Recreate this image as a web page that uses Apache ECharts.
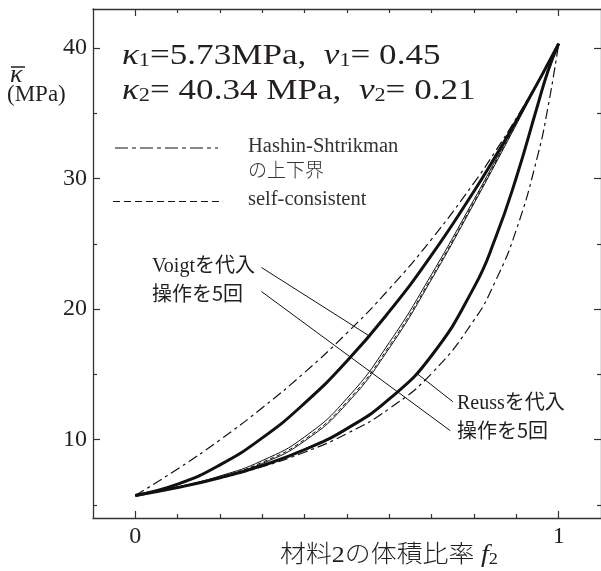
<!DOCTYPE html>
<html><head><meta charset="utf-8">
<script src="https://cdn.jsdelivr.net/npm/echarts@6/dist/echarts.min.js"></script>
<style>html,body{margin:0;padding:0;background:#fff}#c{width:601px;height:571px}</style>
</head><body><div id="c"></div>
<script>
// ---- data ----
const f2 = [0, 0.1, 0.2, 0.3, 0.4, 0.5, 0.6, 0.7, 0.8, 0.85, 0.9, 0.95, 0.975, 1];
const hsUpper        = [5.73, 7.76, 9.99, 12.45, 15.16, 18.18, 21.56, 25.37, 29.68, 32.07, 34.63, 37.38, 38.83, 40.34];
const voigtSubst     = [5.73, 6.59, 8.07, 10.14, 12.80, 16.03, 19.83, 24.16, 29.04, 31.67, 34.44, 37.32, 38.82, 40.34];
const voigt5         = [5.73, 6.39, 7.22, 8.40, 10.22, 13.17, 17.45, 22.68, 28.40, 31.35, 34.33, 37.32, 38.82, 40.34];
const selfConsistent = [5.73, 6.35, 7.15, 8.27, 10.02, 12.92, 17.19, 22.45, 28.22, 31.20, 34.22, 37.27, 38.81, 40.34];
const reuss5         = [5.73, 6.33, 7.10, 8.18, 9.90, 12.78, 17.02, 22.30, 28.10, 31.10, 34.15, 37.23, 38.78, 40.34];
const reussSubst     = [5.73, 6.33, 7.08, 8.02, 9.23, 10.85, 13.12, 16.45, 21.67, 25.39, 30.09, 35.59, 38.27, 40.34];
const hsLower        = [5.73, 6.32, 7.05, 7.93, 9.04, 10.47, 12.38, 15.08, 19.16, 22.11, 26.08, 31.71, 35.52, 40.34];

const xMajorTicks = [0, 1];
const xMinorTicks = [0.1, 0.2, 0.3, 0.4, 0.5, 0.6, 0.7, 0.8, 0.9];
const yMajorTicks = [10, 20, 30, 40];
const yMinorTicks = [5, 15, 25, 35];

const leaderVoigt1 = [[0.298, 23.19], [0.555, 17.9]];
const leaderVoigt5 = [[0.298, 21.35], [0.744, 10.69]];
const leaderReuss1 = [[0.750, 12.91], [0.664, 15.1]];

// ---- chart ----
const INK = '#231f20';
const SERIF = "Liberation Serif";
const SERIF_JP = "Liberation Serif, Noto Sans CJK JP";
const GOTHIC = "Noto Sans CJK JP";
const X_MIN = -0.1, X_MAX = 1.1, Y_MIN = 4, Y_MAX = 43;

function pairs(ys) { return f2.map((x, i) => [x, ys[i]]); }

function xAx(pos, ticks, len, labels, showLine) {
  return {
    type: 'value', position: pos, min: X_MIN, max: X_MAX,
    axisLine: { show: showLine, onZero: false, lineStyle: { color: '#333', width: 1.3 } },
    axisTick: { show: true, inside: true, length: len, customValues: ticks, lineStyle: { color: '#333', width: 1.2 } },
    axisLabel: labels ? { show: true, customValues: ticks, margin: 7, fontFamily: SERIF, fontSize: 24, color: INK } : { show: false },
    splitLine: { show: false }
  };
}
function yAx(pos, ticks, len, labels, showLine) {
  return {
    type: 'value', position: pos, min: Y_MIN, max: Y_MAX,
    axisLine: { show: showLine, onZero: false, lineStyle: { color: '#333', width: 1.3 } },
    axisTick: { show: true, inside: true, length: len, customValues: ticks, lineStyle: { color: '#333', width: 1.2 } },
    axisLabel: labels ? { show: true, customValues: ticks, margin: 6, fontFamily: SERIF, fontSize: 24, color: INK } : { show: false },
    splitLine: { show: false }
  };
}

function curve(name, ys, width, type, z) {
  return {
    name, type: 'line', data: pairs(ys), xAxisIndex: 0, yAxisIndex: 0,
    showSymbol: false, symbol: 'none', smooth: 0.5, silent: true, z: z,
    lineStyle: { color: '#111', width: width, type: type, cap: 'butt' }
  };
}
function leader(pts) {
  return {
    type: 'line', data: pts, xAxisIndex: 0, yAxisIndex: 0, showSymbol: false, symbol: 'none', silent: true, z: 1,
    lineStyle: { color: '#111', width: 1 }
  };
}

function txt(x, y, text, font, size, extra) {
  return Object.assign({
    type: 'text', x: x, y: y, silent: true,
    style: Object.assign({
      text: text, fontFamily: font, fontSize: size, fill: INK,
      align: 'left', verticalAlign: 'middle', textAlign: 'left', textVerticalAlign: 'middle'
    }, (extra && extra.style) || {})
  }, (extra && extra.el) || {});
}

const mainRich = {
  k: { fontFamily: SERIF, fontStyle: 'italic', fontSize: 30, verticalAlign: 'bottom', lineHeight: 30 },
  s: { fontFamily: SERIF, fontSize: 19, verticalAlign: 'bottom', lineHeight: 30 },
  n: { fontFamily: SERIF, fontSize: 30, verticalAlign: 'bottom', lineHeight: 30 }
};

const chart = echarts.init(document.getElementById('c'), null, { renderer: 'canvas' });
chart.setOption({
  animation: false,
  backgroundColor: '#fff',
  grid: { left: 93, top: 9, width: 510, height: 509, containLabel: false },
  xAxis: [
    xAx('bottom', xMajorTicks, 7, true, true),
    xAx('bottom', xMinorTicks, 4, false, false),
    xAx('top', xMajorTicks, 7, false, true),
    xAx('top', xMinorTicks, 4, false, false)
  ],
  yAxis: [
    yAx('left', yMajorTicks, 7, true, true),
    yAx('left', yMinorTicks, 4, false, false),
    yAx('right', yMajorTicks, 7, false, true),
    yAx('right', yMinorTicks, 4, false, false)
  ],
  series: [
    curve('HS upper', hsUpper, 1.2, [10, 4, 3, 4], 2),
    curve('HS lower', hsLower, 1.2, [10, 4, 3, 4], 2),
    curve('self-consistent', selfConsistent, 1, [4, 3], 2),
    curve('Voigt x5', voigt5, 1, 'solid', 3),
    curve('Reuss x5', reuss5, 1, 'solid', 3),
    curve('Voigt', voigtSubst, 3, 'solid', 4),
    curve('Reuss', reussSubst, 3, 'solid', 4),
    leader(leaderVoigt1),
    leader(leaderVoigt5),
    leader(leaderReuss1)
  ],
  graphic: [
    // y-axis name
    txt(10, 75, 'κ', SERIF, 26, { style: { fontStyle: 'italic' } }),
    { type: 'line', silent: true, shape: { x1: 11, y1: 67, x2: 25, y2: 67 }, style: { stroke: INK, lineWidth: 1.5 } },
    txt(7, 95, '(MPa)', SERIF, 23),
    // parameters
    txt(122, 56, '{k|κ}{s|1}{n|=5.73MPa,  }{k|ν}{s|1}{n|= 0.45}', SERIF, 30, { style: { rich: mainRich }, el: { scaleX: 1.17 } }),
    txt(122, 91, '{k|κ}{s|2}{n|= 40.34 MPa,  }{k|ν}{s|2}{n|= 0.21}', SERIF, 30, { style: { rich: mainRich }, el: { scaleX: 1.17 } }),
    // legend
    { type: 'line', silent: true, shape: { x1: 115, y1: 148, x2: 218, y2: 148 }, style: { stroke: '#111', lineWidth: 1.2, lineDash: [13, 4, 4, 4] } },
    txt(248, 147, 'Hashin-Shtrikman', SERIF, 20.5, { style: { fill: '#333' } }),
    txt(248, 170, 'の上下界', GOTHIC, 19, { style: { fill: '#333', fontWeight: 300 } }),
    { type: 'line', silent: true, shape: { x1: 113, y1: 201.5, x2: 220, y2: 201.5 }, style: { stroke: '#111', lineWidth: 1.2, lineDash: [7, 4] } },
    txt(248, 200, 'self-consistent', SERIF, 20.5, { style: { fill: '#333' } }),
    // annotations
    txt(152, 267, 'Voigtを代入', SERIF_JP, 20),
    txt(152, 293, '操作を5回', GOTHIC, 20),
    txt(457, 404, 'Reussを代入', SERIF_JP, 20),
    txt(457, 430, '操作を5回', GOTHIC, 20),
    // x-axis name
    txt(280, 555, '{c|材料2の体積比率 }{f|f}{s|2}', SERIF_JP, 24, { el: { scaleX: 1.08 }, style: { rich: {
      c: { fontFamily: SERIF_JP, fontSize: 24, fontWeight: 300, verticalAlign: 'bottom', lineHeight: 26 },
      f: { fontFamily: SERIF, fontStyle: 'italic', fontSize: 26, verticalAlign: 'bottom', lineHeight: 26 },
      s: { fontFamily: SERIF, fontSize: 17, verticalAlign: 'bottom', lineHeight: 26 }
    } } })
  ]
});
</script>
</body></html>
